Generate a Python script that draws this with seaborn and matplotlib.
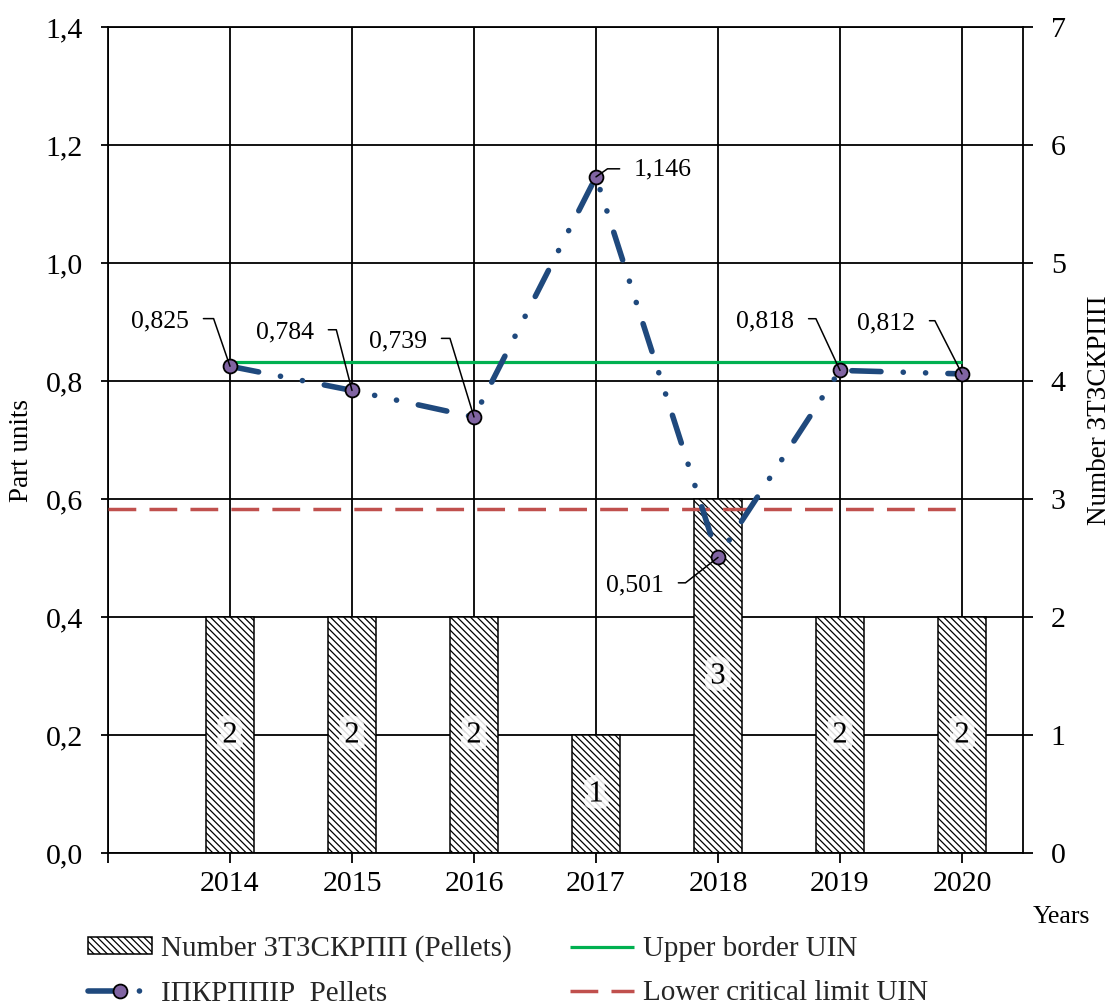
import numpy as np
import pandas as pd
import matplotlib
matplotlib.use("Agg")
import matplotlib.pyplot as plt
import matplotlib.patheffects as pe
import seaborn as sns

# ---------------- data ----------------
years = ["2014", "2015", "2016", "2017", "2018", "2019", "2020"]
pellet_counts = [2, 2, 2, 1, 3, 2, 2]
ipkrppir_values = [0.825, 0.784, 0.739, 1.146, 0.501, 0.818, 0.812]
value_labels = ["0,825", "0,784", "0,739", "1,146", "0,501", "0,818", "0,812"]
upper_border_uin = 0.833
lower_critical_uin = 0.583
left_ticks = [0.0, 0.2, 0.4, 0.6, 0.8, 1.0, 1.2, 1.4]
left_tick_labels = ["0,0", "0,2", "0,4", "0,6", "0,8", "1,0", "1,2", "1,4"]
right_ticks = [0, 1, 2, 3, 4, 5, 6, 7]
legend_labels = ["Number ЗТЗСКРПП (Pellets)", "ІПКРППІР  Pellets",
                 "Upper border UIN", "Lower critical limit UIN"]

# ---------------- style ----------------
sns.set_theme(style="ticks")
plt.rcParams["font.family"] = ["Liberation Serif", "DejaVu Serif"]
plt.rcParams["hatch.linewidth"] = 0.9
plt.rcParams["hatch.color"] = "black"
plt.rcParams["lines.scale_dashes"] = False
plt.rcParams["axes.edgecolor"] = "black"
plt.rcParams["axes.linewidth"] = 1.3

W, H = 1113, 1008
fig = plt.figure(figsize=(W / 100, H / 100), dpi=100)
ax = fig.add_axes([108 / W, 1 - 853 / H, (1023 - 108) / W, (853 - 27) / H])

n = len(years)
df = pd.DataFrame({"Year": years, "Count": pellet_counts})
sns.barplot(data=df, x="Year", y="Count", ax=ax, color="white", saturation=1,
            edgecolor="black", linewidth=1.1, width=0.4, hatch="\\" * 5,
            errorbar=None)
bar_handle = ax.patches[0]

for i, c in enumerate(pellet_counts):
    ax.text(i, c / 2, str(c), ha="center", va="center", fontsize=22,
            color="black", zorder=4,
            path_effects=[pe.withStroke(linewidth=10, foreground="white", alpha=0.85)])

ax2 = ax.twinx()

# line series on secondary (displayed left) axis
sns.lineplot(x=np.arange(n), y=ipkrppir_values, ax=ax2, color="#1F497D",
             linewidth=4, marker="o", markersize=10,
             markerfacecolor="#8064A2", markeredgecolor="black",
             markeredgewidth=1.3, zorder=3)
main_line = ax2.lines[-1]
main_line.set_linestyle((0, (21, 16, 0.1, 16, 0.1, 16)))
main_line.set_dash_capstyle("round")

green = ax2.hlines(upper_border_uin, 0, n - 1, colors="#00B050", linewidth=2.3, zorder=2)
red = ax2.hlines(lower_critical_uin, -1, n - 1, colors="#C0504D", linewidth=2.5,
                 linestyles=[(0, (20, 9.5))], zorder=2)

# annotations with leader lines
label_offsets = [(-29.5, 32.4), (-27.4, 41.8), (-33.8, 54.7), (27.4, 5.0),
                 (-38.9, -20.2), (-33.0, 35.3), (-33.8, 36.4)]
leader_angles = [109, 104.5, 107, 35, 38, 115, 117]
for i, (v, lab) in enumerate(zip(ipkrppir_values, value_labels)):
    dx, dy = label_offsets[i]
    left_side = dx < 0
    ax2.annotate(lab, xy=(i, v), xytext=(dx, dy), textcoords="offset points",
                 ha="right" if left_side else "left", va="center", fontsize=18.5,
                 color="black", zorder=5,
                 arrowprops=dict(arrowstyle="-", color="black", lw=1.1,
                                 shrinkA=8, shrinkB=0,
                                 relpos=(1, 0.62) if left_side else (0, 0.55),
                                 connectionstyle=f"angle,angleA=0,angleB={leader_angles[i]},rad=0"))

# ---------------- axes configuration ----------------
ax2.set_ylim(0, 1.4)
ax2.yaxis.tick_left()
ax2.yaxis.set_label_position("left")
ax2.set_yticks(left_ticks)
ax2.set_yticklabels(left_tick_labels)
ax2.tick_params(axis="y", left=True, right=False, labelleft=True, labelright=False,
                direction="out", length=5, width=1.3, color="black", pad=13,
                labelsize=21.5, labelcolor="black")
ax2.set_ylabel("")
ax2.set_xlabel("")
for s in ax2.spines.values():
    s.set_visible(False)

ax.set_ylim(0, 7)
ax.yaxis.tick_right()
ax.yaxis.set_label_position("right")
ax.set_yticks(right_ticks)
ax.set_yticklabels([str(t) for t in right_ticks])
ax.tick_params(axis="y", left=False, right=True, labelleft=False, labelright=True,
               direction="out", length=7, width=1.3, color="black", pad=13,
               labelsize=21.5, labelcolor="black")
ax.set_xticks(list(range(-1, n)))
ax.set_xticklabels([""] + years)
ax.tick_params(axis="x", bottom=True, direction="out", length=7, width=1.3,
               color="black", pad=6, labelsize=21.5, labelcolor="black")
ax.set_xlim(-1, n - 0.5)
ax.set_xlabel("")
ax.set_ylabel("")
ax.grid(True, color="black", linewidth=1.3)
ax.set_axisbelow(True)
for s in ax.spines.values():
    s.set_visible(True)
    s.set_color("black")
    s.set_linewidth(1.3)

# axis titles
fig.text(22 / W, 1 - 450 / H, "Part units", rotation=90, ha="center", va="center",
         fontsize=19.5, color="black")
fig.text(1100 / W, 1 - 410 / H, "Number ЗТЗСКРПП", rotation=90, ha="center",
         va="center", fontsize=19.5, color="black")
fig.text(1061 / W, 1 - 917 / H, "Years", ha="center", va="center", fontsize=18.5,
         color="black")

# legend
fig.legend(handles=[bar_handle, main_line, green, red], labels=legend_labels,
           ncol=2, loc="center left", bbox_to_anchor=(88 / W, 1 - 971 / H),
           frameon=False, fontsize=21, handlelength=2.2, handleheight=0.5,
           handletextpad=0.3, columnspacing=2.0, labelspacing=0.62,
           borderpad=0, borderaxespad=0)

fig.savefig("out.png", dpi=100)
